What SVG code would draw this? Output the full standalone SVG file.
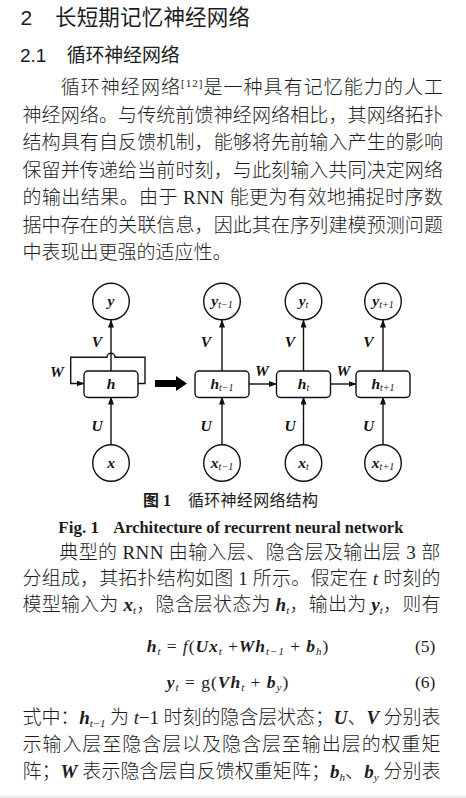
<svg xmlns="http://www.w3.org/2000/svg" width="466" height="798" viewBox="0 0 466 798">
<defs>
<marker id="ah" markerWidth="8" markerHeight="6" refX="7.5" refY="3" orient="auto" markerUnits="userSpaceOnUse">
<path d="M0,0 L8,3 L0,6 z" fill="#111"/>
</marker>
<style>
.body{font-family:"Liberation Serif","Noto Sans CJK SC",serif;font-size:19px;font-weight:300;fill:#1c1c1c}
.hd{font-family:"Liberation Sans","Noto Sans CJK SC",sans-serif;fill:#1c1c1c}
.cir{fill:#fff;stroke:#111;stroke-width:1.4}
.box{fill:#fff;stroke:#111;stroke-width:1.4}
.lab{font-family:"Liberation Serif",serif;font-weight:bold;font-style:italic;font-size:15.5px;fill:#111;text-anchor:middle}
.sub{font-weight:normal;font-size:10px}
.con{fill:none;stroke:#111;stroke-width:1.4}
.bi{font-weight:bold;font-style:italic}
.it{font-style:italic}
.fm{font-family:"Liberation Serif",serif;font-size:17.5px;fill:#1c1c1c}
.fs{font-size:11px;font-style:italic}
</style>
</defs>
<rect width="466" height="798" fill="#fff"/>
<rect y="795.5" width="466" height="2.5" fill="#ececec"/>

<!-- headings -->
<text class="hd" x="20.5" y="24.5" font-size="21">2</text>
<text class="hd" x="55" y="24.5" font-size="21.5" textLength="195" lengthAdjust="spacing">长短期记忆神经网络</text>
<text class="hd" x="20" y="62" font-size="19">2.1</text>
<text class="hd" x="66.7" y="62" font-size="19" textLength="113" lengthAdjust="spacing">循环神经网络</text>

<!-- paragraph 1 -->
<text class="body" x="60.7" y="94" textLength="382.3" lengthAdjust="spacing">循环神经网络<tspan font-size="11" dy="-7">[12]</tspan><tspan dy="7">是一种具有记忆能力的人工</tspan></text>
<text class="body" x="22.5" y="121.5" textLength="420.5" lengthAdjust="spacing">神经网络。与传统前馈神经网络相比，其网络拓扑</text>
<text class="body" x="22.5" y="149" textLength="420.5" lengthAdjust="spacing">结构具有自反馈机制，能够将先前输入产生的影响</text>
<text class="body" x="22.5" y="176.5" textLength="420.5" lengthAdjust="spacing">保留并传递给当前时刻，与此刻输入共同决定网络</text>
<text class="body" x="22.5" y="204" textLength="420.5" lengthAdjust="spacing">的输出结果。由于 RNN 能更为有效地捕捉时序数</text>
<text class="body" x="22.5" y="231.5" textLength="420.5" lengthAdjust="spacing">据中存在的关联信息，因此其在序列建模预测问题</text>
<text class="body" x="22.5" y="259">中表现出更强的适应性。</text>

<!-- figure -->
<g id="connectors">
<line class="con" x1="111" y1="444.7" x2="111" y2="397" marker-end="url(#ah)"/>
<line class="con" x1="111" y1="371" x2="111" y2="320" marker-end="url(#ah)"/>
<path class="con" d="M138,383.5 H145 V357.3 H115 A4,4 0 0 0 107,357.3 H70.7 V383.5 H84" marker-end="url(#ah)"/>
<line class="con" x1="222" y1="444.7" x2="222" y2="397" marker-end="url(#ah)"/>
<line class="con" x1="222" y1="371" x2="222" y2="320" marker-end="url(#ah)"/>
<line class="con" x1="303.5" y1="444.7" x2="303.5" y2="397" marker-end="url(#ah)"/>
<line class="con" x1="303.5" y1="371" x2="303.5" y2="320" marker-end="url(#ah)"/>
<line class="con" x1="383" y1="444.7" x2="383" y2="397" marker-end="url(#ah)"/>
<line class="con" x1="383" y1="371" x2="383" y2="320" marker-end="url(#ah)"/>
<line class="con" x1="249" y1="384" x2="276.5" y2="384" marker-end="url(#ah)"/>
<line class="con" x1="330.5" y1="384" x2="356" y2="384" marker-end="url(#ah)"/>
<polygon points="155,380 176,380 176,376 187,383.5 176,391 176,387 155,387" fill="#000"/>
</g>

<g id="edge-labels">
<text class="lab" x="97" y="347">V</text>
<text class="lab" x="97" y="430.5">U</text>
<text class="lab" x="57" y="377">W</text>
<text class="lab" x="206" y="347">V</text>
<text class="lab" x="206" y="430.5">U</text>
<text class="lab" x="290" y="347">V</text>
<text class="lab" x="290" y="430.5">U</text>
<text class="lab" x="368.5" y="347">V</text>
<text class="lab" x="368.5" y="430.5">U</text>
<text class="lab" x="262" y="376">W</text>
<text class="lab" x="343.5" y="376">W</text>
</g>

<g id="node-y"><circle class="cir" cx="111" cy="301.5" r="18.3"/><text class="lab" x="111" y="305.5">y</text></g>
<g id="node-h"><rect class="box" x="84" y="371" width="54" height="26.5" rx="4"/><text class="lab" x="111" y="389">h</text></g>
<g id="node-x"><circle class="cir" cx="111" cy="463" r="18.3"/><text class="lab" x="111" y="467.5">x</text></g>

<g id="node-y-tm1"><circle class="cir" cx="222" cy="301.5" r="18.3"/><text class="lab" x="222" y="305.5">y<tspan class="sub" dy="2">t−1</tspan></text></g>
<g id="node-h-tm1"><rect class="box" x="195" y="371" width="54" height="26.5" rx="4"/><text class="lab" x="222" y="389">h<tspan class="sub" dy="2">t−1</tspan></text></g>
<g id="node-x-tm1"><circle class="cir" cx="222" cy="463" r="18.3"/><text class="lab" x="222" y="467.5">x<tspan class="sub" dy="2">t−1</tspan></text></g>

<g id="node-y-t"><circle class="cir" cx="303.5" cy="301.5" r="18.3"/><text class="lab" x="303.5" y="305.5">y<tspan class="sub" dy="2">t</tspan></text></g>
<g id="node-h-t"><rect class="box" x="276.5" y="371" width="54" height="26.5" rx="4"/><text class="lab" x="303.5" y="389">h<tspan class="sub" dy="2">t</tspan></text></g>
<g id="node-x-t"><circle class="cir" cx="303.5" cy="463" r="18.3"/><text class="lab" x="303.5" y="467.5">x<tspan class="sub" dy="2">t</tspan></text></g>

<g id="node-y-tp1"><circle class="cir" cx="383" cy="301.5" r="18.3"/><text class="lab" x="383" y="305.5">y<tspan class="sub" dy="2">t+1</tspan></text></g>
<g id="node-h-tp1"><rect class="box" x="356" y="371" width="54" height="26.5" rx="4"/><text class="lab" x="383" y="389">h<tspan class="sub" dy="2">t+1</tspan></text></g>
<g id="node-x-tp1"><circle class="cir" cx="383" cy="463" r="18.3"/><text class="lab" x="383" y="467.5">x<tspan class="sub" dy="2">t+1</tspan></text></g>

<!-- captions -->
<text x="143" y="506" font-family="'Liberation Serif','Noto Sans CJK SC',serif" font-size="16" font-weight="bold" fill="#1c1c1c">图 1</text>
<text x="188" y="506" font-family="'Noto Sans CJK SC',sans-serif" font-size="16" fill="#1c1c1c" textLength="130" lengthAdjust="spacing">循环神经网络结构</text>
<text x="58.3" y="532.5" font-family="'Liberation Serif',serif" font-size="17" font-weight="bold" fill="#1c1c1c">Fig. 1</text>
<text x="113.3" y="532.5" font-family="'Liberation Serif',serif" font-size="17" font-weight="bold" fill="#1c1c1c" textLength="290" lengthAdjust="spacingAndGlyphs">Architecture of recurrent neural network</text>

<!-- paragraph 2 -->
<text class="body" x="59.3" y="558.5" textLength="381" lengthAdjust="spacing">典型的 RNN 由输入层、隐含层及输出层 3 部</text>
<text class="body" x="22.5" y="584.5" textLength="418" lengthAdjust="spacing">分组成，其拓扑结构如图 1 所示。假定在 <tspan class="it">t</tspan> 时刻的</text>
<text class="body" x="22.5" y="610.5" textLength="418" lengthAdjust="spacing">模型输入为 <tspan class="bi">x</tspan><tspan font-size="11" class="it" dy="3">t</tspan><tspan dy="-3">，隐含层状态为 </tspan><tspan class="bi">h</tspan><tspan font-size="11" class="it" dy="3">t</tspan><tspan dy="-3">，输出为 </tspan><tspan class="bi">y</tspan><tspan font-size="11" class="it" dy="3">t</tspan><tspan dy="-3">，则有</tspan></text>

<!-- formulas -->
<text class="fm" x="146.7" y="652" textLength="181.6" lengthAdjust="spacing"><tspan class="bi">h</tspan><tspan class="fs" dy="3">t</tspan><tspan dy="-3"> = </tspan><tspan class="it">f</tspan>(<tspan class="bi">Ux</tspan><tspan class="fs" dy="3">t</tspan><tspan dy="-3"> +</tspan><tspan class="bi">Wh</tspan><tspan class="fs" dy="3">t−1</tspan><tspan dy="-3"> + </tspan><tspan class="bi">b</tspan><tspan class="fs" dy="3">h</tspan><tspan dy="-3">)</tspan></text>
<text class="fm" x="415" y="652">(5)</text>
<text class="fm" x="166.7" y="688" textLength="121.6" lengthAdjust="spacing"><tspan class="bi">y</tspan><tspan class="fs" dy="3">t</tspan><tspan dy="-3"> = g(</tspan><tspan class="bi">Vh</tspan><tspan class="fs" dy="3">t</tspan><tspan dy="-3"> + </tspan><tspan class="bi">b</tspan><tspan class="fs" dy="3">y</tspan><tspan dy="-3">)</tspan></text>
<text class="fm" x="415" y="688">(6)</text>

<!-- paragraph 3 -->
<text class="body" x="22.5" y="724" textLength="418" lengthAdjust="spacing">式中：<tspan class="bi">h</tspan><tspan font-size="11" class="it" dy="3">t−1</tspan><tspan dy="-3"> 为 </tspan><tspan class="it">t</tspan>−1 时刻的隐含层状态；<tspan class="bi">U</tspan>、<tspan class="bi">V</tspan> 分别表</text>
<text class="body" x="22.5" y="751" textLength="418" lengthAdjust="spacing">示输入层至隐含层以及隐含层至输出层的权重矩</text>
<text class="body" x="22.5" y="778" textLength="418" lengthAdjust="spacing">阵；<tspan class="bi">W</tspan> 表示隐含层自反馈权重矩阵；<tspan class="bi">b</tspan><tspan font-size="11" class="it" dy="3">h</tspan><tspan dy="-3">、</tspan><tspan class="bi">b</tspan><tspan font-size="11" class="it" dy="3">y</tspan><tspan dy="-3"> 分别表</tspan></text>
</svg>
